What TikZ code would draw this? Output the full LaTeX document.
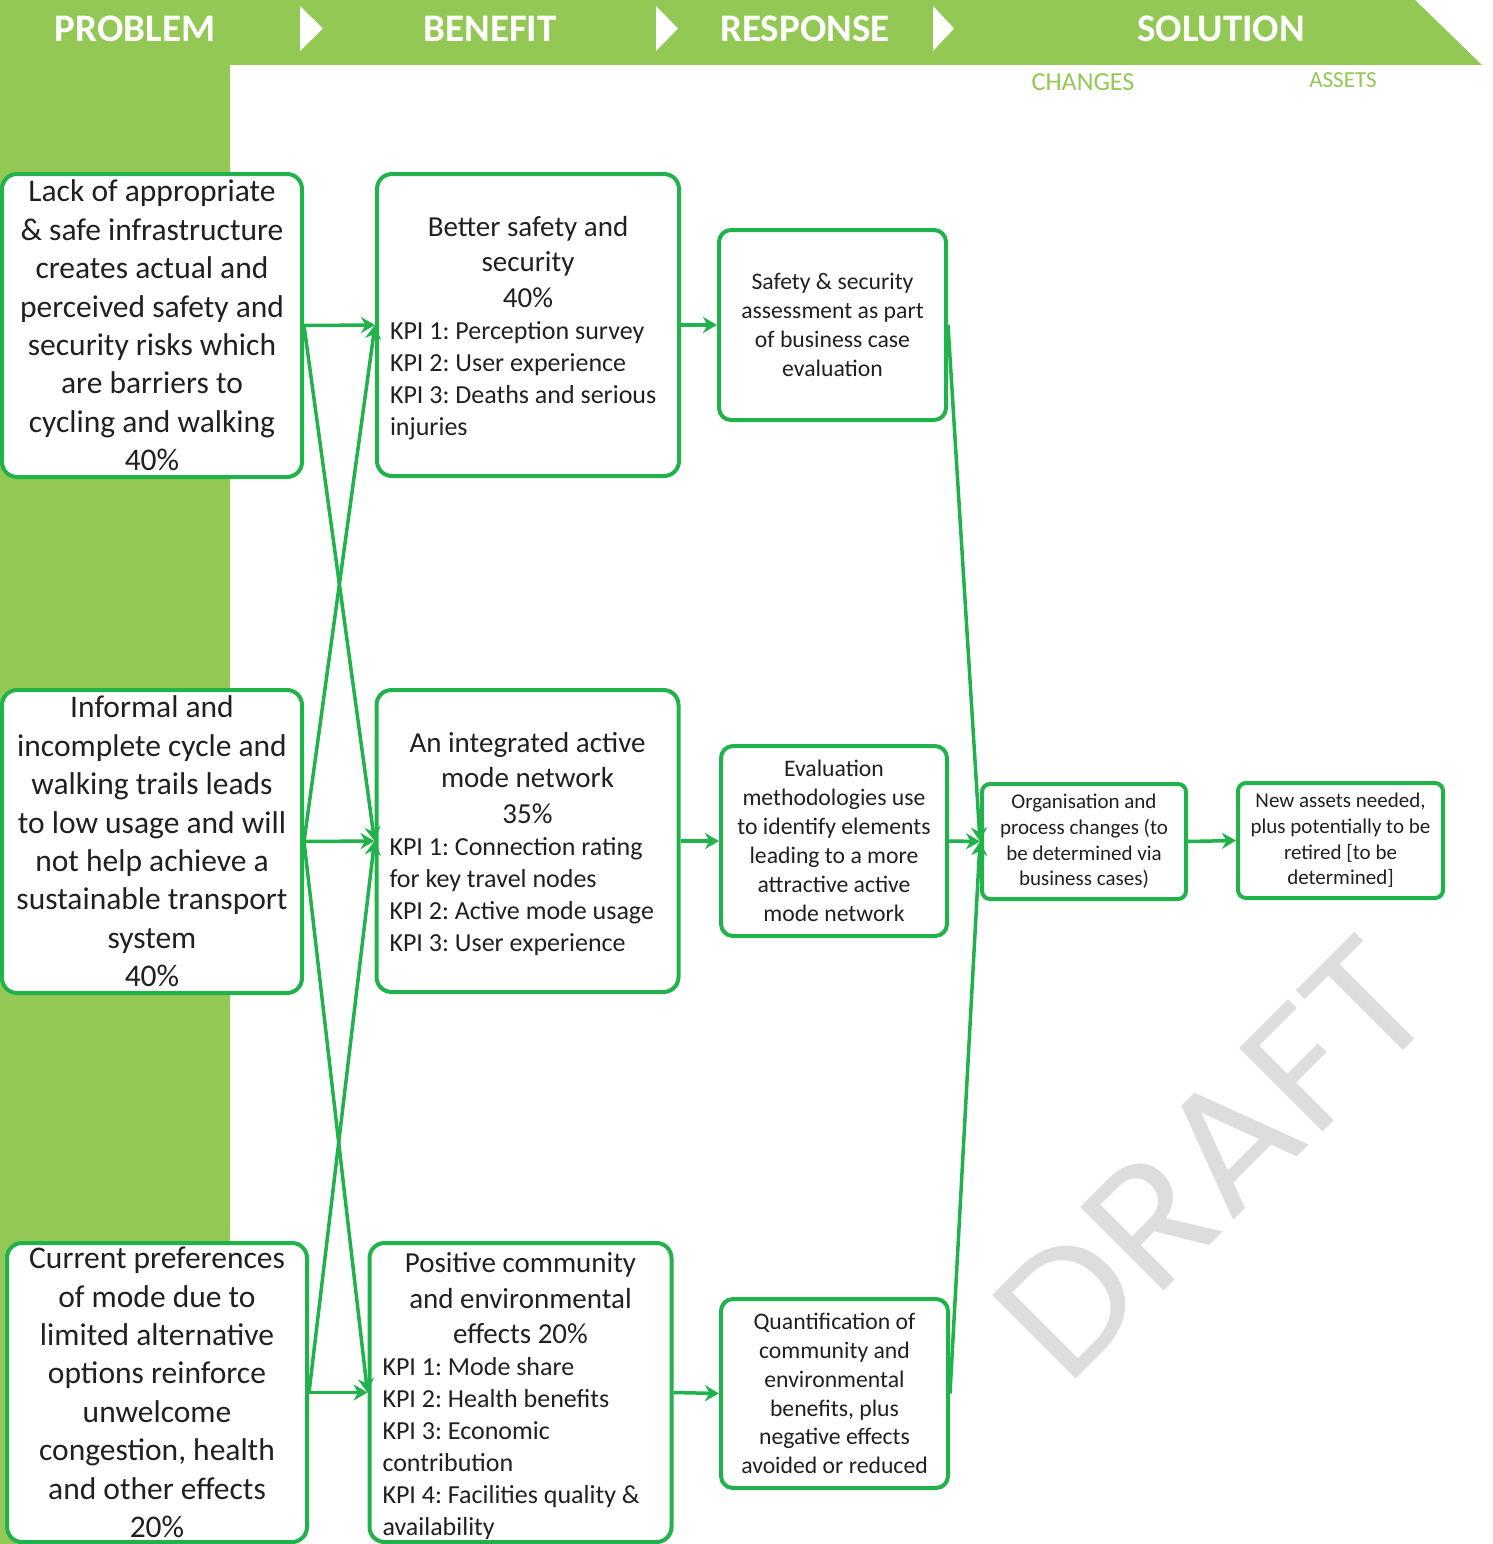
\documentclass[tikz,border=0pt]{standalone}
\usepackage{fontspec}
\usepackage{graphicx}
\setmainfont{Carlito}
\newfontfamily\draftfont{Poppins}
\usetikzlibrary{arrows.meta}
\definecolor{hdrgreen}{HTML}{92C853}
\definecolor{boxgreen}{HTML}{21B24B}
\definecolor{txt}{HTML}{231F20}
\definecolor{wmgray}{HTML}{DCDDDF}
\begin{document}
\frenchspacing
\begin{tikzpicture}[x=1pt,y=-1pt,
  box/.style={draw=boxgreen, line width=4pt, fill=white, text=txt, inner xsep=0pt, inner ysep=0pt},
  pbox/.style={box, rounded corners=15pt, minimum width=300pt, align=flush center, font=\fontsize{31.5}{38.4}\selectfont},
  bbox/.style={box, rounded corners=15pt, text width=276pt, inner xsep=13pt, align=flush left},
  rbox/.style={box, rounded corners=12pt, align=flush center, font=\fontsize{23.7}{28.9}\selectfont},
  sbox/.style={box, rounded corners=8pt, align=flush center, font=\fontsize{21}{25.7}\selectfont},
  hdr/.style={anchor=base, text=white, inner sep=0pt, font=\bfseries\fontsize{39}{45}\selectfont},
  sub/.style={anchor=base, text=hdrgreen, inner sep=0pt},
  arr/.style={draw=boxgreen, line width=3.5pt, -{Stealth[length=14pt,width=16pt,inset=4.5pt]}},
]
\useasboundingbox (0,0) rectangle (1492,1544);
% header band and left strip
\fill[hdrgreen] (0,0) -- (1415,0) -- (1482,65) -- (230,65) -- (230,1544) -- (0,1544) -- cycle;
\fill[white] (300,6) -- (323,28.5) -- (300,51) -- cycle;
\fill[white] (656,6) -- (678,28.5) -- (656,51) -- cycle;
\fill[white] (933,6) -- (954,28.5) -- (933,51) -- cycle;
\node[hdr] (hP) at (135,42) {PROBLEM};
\node[hdr] (hB) at (490,42) {BENEFIT};
\node[hdr] (hR) at (805,42) {RESPONSE};
\node[hdr] (hS) at (1221,42) {SOLUTION};
\node[sub, font=\fontsize{26}{30}\selectfont] (hC) at (1083,91) {CHANGES};
\node[sub, font=\fontsize{23}{27}\selectfont] (hA) at (1343,88) {ASSETS};
% watermark
\node[rotate=45, text=wmgray, inner sep=0pt] (wm) at (1213,1158) {\draftfont\resizebox{532pt}{118pt}{DRAFT}};
% problem boxes
\node[pbox, minimum height=303pt] (P1) at (152,325.5) {Lack of appropriate\\\& safe infrastructure\\creates actual and\\perceived safety and\\security risks which\\are barriers to\\cycling and walking\\40\%};
\node[pbox, minimum height=303pt] (P2) at (152,841.5) {Informal and\\incomplete cycle and\\walking trails leads\\to low usage and will\\not help achieve a\\sustainable transport\\system\\40\%};
\node[pbox, minimum height=299pt] (P3) at (157,1392.5) {Current preferences\\of mode due to\\limited alternative\\options reinforce\\unwelcome\\congestion, health\\and other effects\\20\%};
% benefit boxes
\node[bbox, minimum height=302pt] (B1) at (528,325) {{\centering\fontsize{29}{35.5}\selectfont Better safety and\\security\\40\%\par}{\raggedright\fontsize{26}{32}\selectfont KPI 1: Perception survey\\KPI 2: User experience\\KPI 3: Deaths and serious\\injuries\par}\vspace*{-6pt}};
\node[bbox, minimum height=302pt] (B2) at (527.5,841) {{\centering\fontsize{29}{35.5}\selectfont An integrated active\\mode network\\35\%\par}{\raggedright\fontsize{26}{32}\selectfont KPI 1: Connection rating\\for key travel nodes\\KPI 2: Active mode usage\\KPI 3: User experience\par}\vspace*{-6pt}};
\node[bbox, minimum height=299pt] (B3) at (520.5,1392.5) {{\centering\fontsize{29}{35.5}\selectfont Positive community\\and environmental\\effects 20\%\par}{\raggedright\fontsize{26}{32}\selectfont KPI 1: Mode share\\KPI 2: Health benefits\\KPI 3: Economic\\contribution\\KPI 4: Facilities quality \&\\availability\par}\vspace*{-8pt}};
% response boxes
\node[rbox, minimum width=227pt, minimum height=190pt] (R1) at (832.5,325) {Safety \& security\\assessment as part\\of business case\\evaluation};
\node[rbox, minimum width=226pt, minimum height=190pt] (R2) at (834,841) {Evaluation\\methodologies use\\to identify elements\\leading to a more\\attractive active\\mode network};
\node[rbox, minimum width=227pt, minimum height=189pt] (R3) at (834.5,1393.5) {Quantification of\\community and\\environmental\\benefits, plus\\negative effects\\avoided or reduced};
% solution boxes
\node[sbox, minimum width=204pt, minimum height=115pt] (S1) at (1084,841.5) {Organisation and\\process changes (to\\be determined via\\business cases)};
\node[sbox, minimum width=205pt, minimum height=115pt] (S2) at (1340.5,840.5) {New assets needed,\\plus potentially to be\\retired [to be\\determined]};
% connectors problem -> benefit
\draw[arr] (P1.east) -- (B1.west);
\draw[arr] (P1.east) -- (B2.west);
\draw[arr] (P2.east) -- (B1.west);
\draw[arr] (P2.east) -- (B2.west);
\draw[arr] (P2.east) -- (B3.west);
\draw[arr] (P3.east) -- (B2.west);
\draw[arr] (P3.east) -- (B3.west);
% benefit -> response
\draw[arr] (B1.east) -- (R1.west);
\draw[arr] (B2.east) -- (R2.west);
\draw[arr] (B3.east) -- (R3.west);
% response -> solution
\draw[arr] (R1.east) -- (S1.west);
\draw[arr] (R2.east) -- (S1.west);
\draw[arr] (R3.east) -- (S1.west);
\draw[arr] (S1.east) -- (S2.west);
\end{tikzpicture}
\end{document}
